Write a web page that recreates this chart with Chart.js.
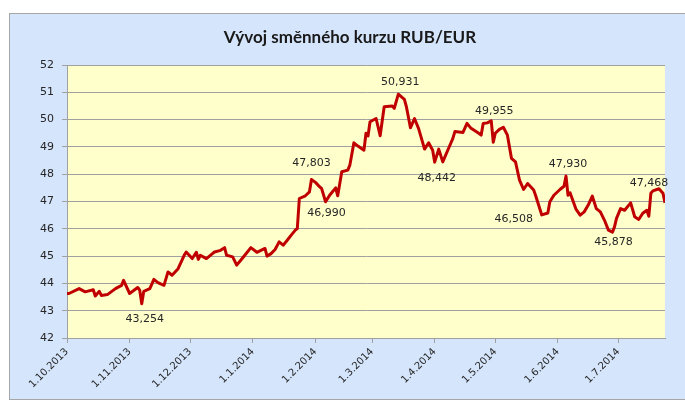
<!DOCTYPE html>
<html>
<head>
<meta charset="utf-8">
<script src="https://cdn.jsdelivr.net/npm/chart.js@4.4.1/dist/chart.umd.min.js"></script>
<style>
    html, body { margin: 0; padding: 0; background: #fff; }
    #wrap { width: 685px; height: 403px; position: relative; }
</style>
</head>
<body>
<div id="wrap"><canvas id="rubChart"></canvas></div>
<script>
// dny od 1.10.2013 a kurz RUB/EUR
const days = [0, 1, 6, 9, 13, 14, 16, 17, 20, 24, 27, 28, 31, 35, 36, 37, 38, 41, 43, 45,
    48, 50, 52, 55, 58, 59, 62, 64, 65, 66, 69, 72, 73, 76, 78, 79, 82, 84, 86, 88,
    91, 94, 98, 99, 101, 103, 105, 107, 109, 111, 113, 114, 115, 118, 120, 121, 123, 125, 126, 128,
    130, 133, 134, 136, 139, 140, 142, 144, 147, 148, 149, 150, 153, 155, 157, 161, 162, 164, 167, 168,
    170, 172, 174, 177, 179, 181, 182, 184, 186, 189, 191, 192, 196, 198, 200, 204, 205, 206, 208, 210,
    211, 212, 214, 216, 218, 220, 222, 224, 226, 228, 231, 232, 235, 238, 239, 241, 244, 246, 247, 248,
    249, 252, 254, 256, 258, 260, 262, 264, 266, 268, 270, 271, 272, 274, 276, 279, 281, 283, 285, 287,
    288, 289, 290, 293, 295, 296];
const rates = [43.630, 43.630, 43.810, 43.690, 43.770, 43.540, 43.710, 43.560, 43.590, 43.810,
    43.930, 44.110, 43.630, 43.850, 43.750, 43.254, 43.710, 43.810, 44.150, 44.030,
    43.930, 44.420, 44.300, 44.540, 45.030, 45.150, 44.910, 45.140, 44.880, 45.030,
    44.910, 45.090, 45.150, 45.210, 45.310, 45.030, 44.970, 44.670, 44.850, 45.030,
    45.310, 45.140, 45.280, 45.000, 45.090, 45.240, 45.520, 45.400, 45.580, 45.770,
    45.950, 46.010, 47.110, 47.210, 47.350, 47.803, 47.700, 47.540, 47.480, 46.990,
    47.230, 47.500, 47.210, 48.090, 48.150, 48.330, 49.150, 49.030, 48.880, 49.500,
    49.400, 49.920, 50.040, 49.410, 50.470, 50.500, 50.410, 50.931, 50.740, 50.470,
    49.700, 50.040, 49.680, 48.920, 49.150, 48.880, 48.442, 48.920, 48.450, 48.970,
    49.310, 49.560, 49.530, 49.860, 49.680, 49.490, 49.430, 49.860, 49.880, 49.955,
    49.170, 49.500, 49.640, 49.720, 49.430, 48.580, 48.450, 47.780, 47.440, 47.660,
    47.420, 47.210, 46.508, 46.580, 46.990, 47.230, 47.440, 47.560, 47.930, 47.230,
    47.320, 46.710, 46.500, 46.620, 46.870, 47.200, 46.740, 46.620, 46.320, 45.950,
    45.878, 46.070, 46.380, 46.740, 46.680, 46.950, 46.440, 46.340, 46.570, 46.680,
    46.460, 47.300, 47.390, 47.468, 47.300, 46.950];

const monthDays = [0, 31, 61, 92, 123, 151, 182, 212, 243, 273];
const monthLabels = ['1.10.2013', '1.11.2013', '1.12.2013', '1.1.2014', '1.2.2014',
    '1.3.2014', '1.4.2014', '1.5.2014', '1.6.2014', '1.7.2014'];

// body s popiskem hodnoty
const calloutDays = [37, 121, 128, 164, 182, 210, 235, 247, 270, 293];

const chartTitle = 'Vývoj směnného kurzu RUB/EUR';

// posun popisku vuci bodu (px)
const calloutOffsets = [
    [3, 15], [0, -16], [1, 11], [2, -12], [2, 16],
    [3, -10], [-28, 4], [2, -12], [1, 10], [-10, -6]
];

const backgroundPlugin = {
    id: 'background',
    beforeDraw(chart) {
        const ctx = chart.ctx;
        const area = chart.chartArea;
        ctx.save();
        ctx.fillStyle = '#ffffff';
        ctx.fillRect(0, 0, chart.width, chart.height);
        // ramecek grafu
        ctx.fillStyle = '#d5e5fb';
        ctx.fillRect(9, 13, chart.width - 9, 386);
        ctx.strokeStyle = '#a6a6a6';
        ctx.lineWidth = 1;
        ctx.strokeRect(9.5, 13.5, chart.width, 386);
        // plocha grafu
        ctx.fillStyle = '#ffffcc';
        ctx.fillRect(area.left, area.top, area.right - area.left, area.bottom - area.top);
        // nadpis
        ctx.fillStyle = '#1a1a1a';
        ctx.font = 'bold 17px Lato, sans-serif';
        ctx.textAlign = 'center';
        ctx.textBaseline = 'alphabetic';
        ctx.fillText(chartTitle, 350, 43);
        ctx.restore();
    }
};

const calloutPlugin = {
    id: 'callouts',
    afterDatasetsDraw(chart) {
        const ctx = chart.ctx;
        const meta = chart.getDatasetMeta(0);
        ctx.save();
        ctx.font = '11px "DejaVu Sans", sans-serif';
        ctx.fillStyle = '#262626';
        ctx.textAlign = 'center';
        ctx.textBaseline = 'middle';
        calloutDays.forEach((d, k) => {
            const i = days.indexOf(d);
            if (i < 0) return;
            const pt = meta.data[i];
            const text = rates[i].toFixed(3).replace('.', ',');
            ctx.fillText(text, pt.x + calloutOffsets[k][0], pt.y + calloutOffsets[k][1]);
        });
        ctx.restore();
    }
};

const ctx = document.getElementById('rubChart').getContext('2d');
new Chart(ctx, {
    type: 'line',
    data: {
        datasets: [{
            data: days.map((d, i) => ({ x: d, y: rates[i] })),
            borderColor: '#c00000',
            borderWidth: 3,
            borderJoinStyle: 'round',
            pointRadius: 0,
            tension: 0,
            fill: false
        }]
    },
    options: {
        responsive: true,
        maintainAspectRatio: false,
        animation: false,
        layout: { padding: { left: 9, right: 20, top: 65, bottom: 8 } },
        scales: {
            x: {
                type: 'linear',
                min: 0,
                max: 296,
                afterBuildTicks: scale => {
                    scale.ticks = monthDays.map(v => ({ value: v }));
                },
                afterFit: scale => { scale.height = 57; },
                ticks: {
                    autoSkip: false,
                    minRotation: 45,
                    maxRotation: 45,
                    padding: 3,
                    color: '#262626',
                    font: { family: '"DejaVu Sans", sans-serif', size: 10 },
                    callback: value => {
                        const k = monthDays.indexOf(value);
                        return k >= 0 ? monthLabels[k] : '';
                    }
                },
                grid: {
                    drawOnChartArea: false,
                    drawTicks: true,
                    tickLength: 5,
                    color: '#a0a0a0'
                },
                border: { display: true, color: '#a0a0a0' }
            },
            y: {
                min: 42,
                max: 52,
                afterFit: scale => { scale.width = 58; },
                ticks: {
                    stepSize: 1,
                    padding: 8,
                    color: '#262626',
                    font: { family: '"DejaVu Sans", sans-serif', size: 11 }
                },
                grid: {
                    color: '#a0a0a0',
                    tickLength: 5
                },
                border: { display: true, color: '#a0a0a0' }
            }
        },
        plugins: {
            legend: { display: false },
            tooltip: { enabled: false },
            title: { display: false }
        }
    },
    plugins: [backgroundPlugin, calloutPlugin]
});
</script>
</body>
</html>
